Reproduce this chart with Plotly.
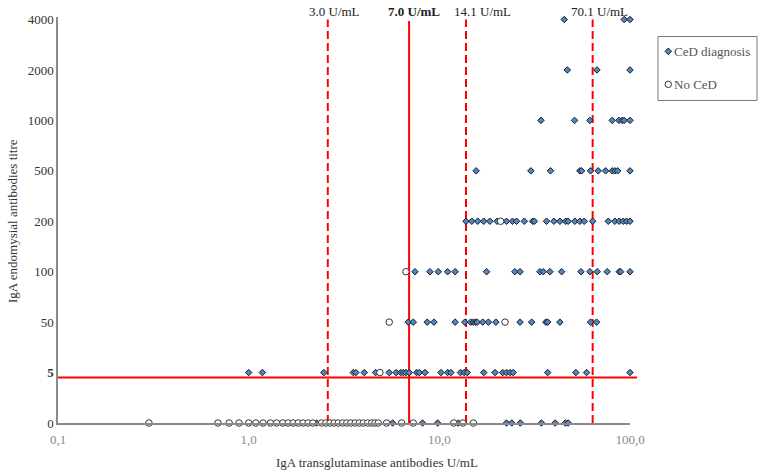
import numpy as np
import plotly.graph_objects as go

# ---------------- data ----------------
titre_levels = [0, 5, 50, 100, 200, 500, 1000, 2000, 4000]
titre_labels = ["0", "<b>5</b>", "50", "100", "200", "500", "1000", "2000", "4000"]
x_tick_vals = [0.1, 1, 10, 100]
x_tick_labels = ["0,1", "1,0", "10,0", "100,0"]

# CeD diagnosis: tTG (U/mL) per EMA titre row
ced_rows = {
    0: [2.27, 5.69, 8.16, 9.80, 12.57, 22.5, 24.0, 26.6, 34.3, 40.5, 45.8, 47.4],
    5: [1.0, 1.18, 2.48, 3.54, 3.65, 4.04, 4.63, 5.46, 5.94, 6.27, 6.47, 6.68, 6.95,
        7.60, 7.85, 8.41, 10.2, 11.05, 11.5, 12.9, 13.5, 14.0, 17.1, 19.6, 21.5, 22.5,
        23.5, 24.4, 37.0, 52.0, 59.2, 100],
    50: [6.87, 7.30, 8.64, 9.37, 12.1, 13.6, 14.6, 15.1, 15.5, 15.8, 16.9, 18.1, 19.8,
         26.5, 30.5, 36.2, 37.0, 42.9, 62.1, 66.8],
    100: [7.45, 8.93, 9.87, 11.05, 12.1, 17.7, 24.9, 26.5, 33.7, 35.1, 38.0, 43.8, 55.3,
          61.6, 67.3, 75.9, 87.8, 89.3, 100],
    200: [13.8, 14.8, 15.9, 17.1, 18.4, 20.1, 22.5, 24.2, 25.4, 27.9, 30.9, 31.5, 36.5,
          39.9, 42.9, 46.0, 47.4, 51.4, 54.6, 57.5, 63.7, 76.9, 83.3, 87.8, 92.1, 96.0, 100],
    500: [15.6, 30.2, 38.3, 54.6, 55.7, 62.1, 68.1, 74.5, 80.7, 83.3, 86.1, 100],
    1000: [34.1, 51.2, 61.6, 80.7, 87.5, 91.0, 93.2, 100],
    2000: [46.9, 67.1, 100],
    4000: [45.2, 93.2, 100],
}
# No CeD
noced_rows = {
    0: [0.30, 0.69, 0.79, 0.89, 1.0, 1.09, 1.19, 1.30, 1.40, 1.51, 1.61, 1.71, 1.82, 1.93,
        2.05, 2.17, 2.41, 2.54, 2.67, 2.81, 2.95, 3.11, 3.27, 3.43, 3.62, 3.80, 3.99, 4.21,
        4.42, 4.60, 4.78, 5.29, 6.34, 7.30, 11.9, 13.3, 15.1],
    5: [4.88],
    50: [5.46, 22.1],
    100: [6.68],
    200: [20.96],
}

# cut-off lines (position) and their labels
cutoff_pos = [2.6, 6.94, 13.8, 63.7]
cutoff_labels = ["3.0 U/mL", "<b>7.0 U/mL</b>", "14.1 U/mL", "70.1 U/mL"]
cutoff_solid = [False, True, False, False]
ema_cutoff_row = 0.9   # row position of the horizontal EMA cut-off line (just below "5")

# ---------------- helpers ----------------
def flatten(rows):
    xs, ys = [], []
    for t, vals in rows.items():
        idx = titre_levels.index(t)
        xs += vals
        ys += [idx] * len(vals)
    return xs, ys

L, R, T, B = 58, 130, 13, 51
W, H = 760, 474
PW, PH = W - L - R, H - T - B

def px_x(p):
    return (p - L) / PW

def px_y(p):
    return (H - B - p) / PH

FONT = "Liberation Serif"
RED = "#ff0000"
BLUE = "#4f86c6"

fig = go.Figure()

# vertical cut-off lines
for pos, solid in zip(cutoff_pos, cutoff_solid):
    fig.add_trace(go.Scatter(
        x=[pos, pos], y=[0, 7.97 if solid else 8.0], mode="lines",
        line=dict(color=RED, width=2, dash="solid" if solid else "8px,4px"),
        hoverinfo="skip", showlegend=False))

cx, cy = flatten(ced_rows)
nx, ny = flatten(noced_rows)

fig.add_trace(go.Scatter(
    x=cx, y=cy, mode="markers", name="CeD diagnosis",
    marker=dict(symbol="diamond", size=5, color=BLUE,
                line=dict(color="#1c1c1c", width=1)),
    cliponaxis=False, showlegend=False))
fig.add_trace(go.Scatter(
    x=nx, y=ny, mode="markers", name="No CeD",
    marker=dict(symbol="circle", size=6.5, color="white",
                line=dict(color="#333333", width=1)),
    cliponaxis=False, showlegend=False))

shapes = []
# horizontal EMA cut-off
shapes.append(dict(type="line", xref="paper", yref="y", x0=0, x1=px_x(637),
                   y0=ema_cutoff_row, y1=ema_cutoff_row,
                   line=dict(color=RED, width=2), layer="below"))
# legend box
shapes.append(dict(type="rect", xref="paper", yref="paper",
                   x0=px_x(658), x1=px_x(757), y0=px_y(97.3), y1=px_y(32.7),
                   line=dict(color="#7a7a7a", width=1), fillcolor="white"))
# legend symbols
shapes.append(dict(type="path", xref="paper", yref="paper", xsizemode="pixel", ysizemode="pixel",
                   xanchor=px_x(668.3), yanchor=px_y(47.7),
                   path="M -3.3 0 L 0 3.3 L 3.3 0 L 0 -3.3 Z",
                   fillcolor=BLUE, line=dict(color="#1c1c1c", width=1)))
shapes.append(dict(type="circle", xref="paper", yref="paper", xsizemode="pixel", ysizemode="pixel",
                   xanchor=px_x(668.3), yanchor=px_y(81),
                   x0=-3.2, x1=3.2, y0=-3.2, y1=3.2,
                   fillcolor="white", line=dict(color="#333333", width=1)))

annotations = []
label_shift = [7, 5, 16, 7]
for pos, lab, sh in zip(cutoff_pos, cutoff_labels, label_shift):
    annotations.append(dict(xref="x", yref="paper", x=np.log10(pos), y=px_y(7.5),
                            text=lab, showarrow=False, xanchor="center", yanchor="middle",
                            xshift=sh, font=dict(family=FONT, size=13, color="#222222")))
annotations.append(dict(xref="paper", yref="paper", x=px_x(672), y=px_y(47.7), text="CeD diagnosis",
                        showarrow=False, xanchor="left", yanchor="middle",
                        font=dict(family=FONT, size=13, color="#555555")))
annotations.append(dict(xref="paper", yref="paper", x=px_x(672), y=px_y(81), text="No CeD",
                        showarrow=False, xanchor="left", yanchor="middle",
                        font=dict(family=FONT, size=13, color="#555555")))
annotations.append(dict(xref="paper", yref="paper", x=px_x(377), y=px_y(463),
                        text="IgA transglutaminase antibodies U/mL", showarrow=False,
                        xanchor="center", yanchor="middle",
                        font=dict(family=FONT, size=13, color="#333333")))
annotations.append(dict(xref="paper", yref="paper", x=px_x(13), y=px_y(219),
                        text="IgA endomysial antibodies titre", showarrow=False, textangle=-90,
                        xanchor="center", yanchor="middle",
                        font=dict(family=FONT, size=13, color="#333333")))

fig.update_layout(
    width=W, height=H,
    margin=dict(l=L, r=R, t=T, b=B),
    paper_bgcolor="white", plot_bgcolor="white",
    showlegend=False,
    shapes=shapes, annotations=annotations,
    xaxis=dict(type="log", range=[-1, 2], tickvals=x_tick_vals, ticktext=x_tick_labels,
               showgrid=False, zeroline=False, showline=True, linecolor="#8a8a8a", linewidth=1.5,
               ticks="", ticklabelstandoff=4,
               tickfont=dict(family=FONT, size=13, color="#8a8a8a")),
    yaxis=dict(range=[0, 8.05], tickvals=list(range(len(titre_levels))), ticktext=titre_labels,
               showgrid=False, zeroline=False, showline=True, linecolor="#8a8a8a", linewidth=1.5,
               ticks="", tickfont=dict(family=FONT, size=13, color="#333333")),
)

fig.write_html("out.html")
